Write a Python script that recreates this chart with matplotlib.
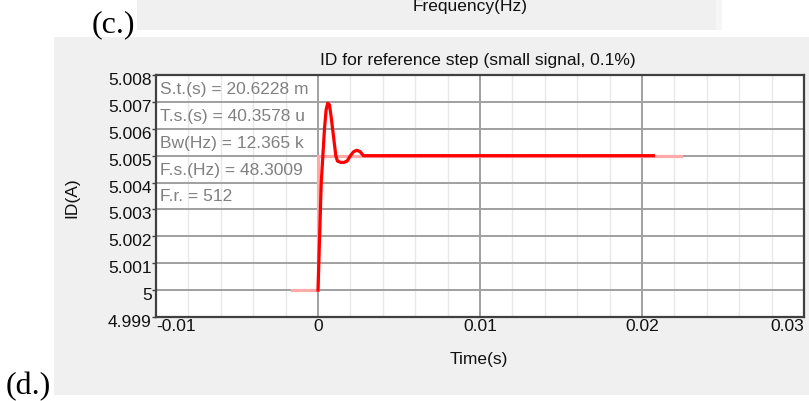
import matplotlib
matplotlib.use("Agg")
import matplotlib.pyplot as plt
import matplotlib.transforms as mtransforms
from matplotlib.patches import Rectangle

W, H = 809, 402
DPI = 100

# Measured drain current response (red) and the reference step (pink)
time_resp = [0.0, 0.0001, 0.0002, 0.0003, 0.0004, 0.0005, 0.0006, 0.0007,
             0.0008, 0.0009, 0.0010, 0.0011, 0.0012, 0.0014, 0.0016, 0.0018,
             0.0020, 0.0022, 0.0024, 0.0026, 0.0028, 0.0030, 0.0207]
id_resp = [5.0000, 5.0020, 5.0040, 5.0050, 5.0060, 5.0067, 5.00695, 5.0069,
           5.0065, 5.0060, 5.0055, 5.0050, 5.0048, 5.00475, 5.00475, 5.0048,
           5.0050, 5.00515, 5.0052, 5.00515, 5.0050, 5.0050, 5.0050]

time_ref = [-0.0016, 0.0, 0.0, 0.0224]
id_ref = [5.000, 5.000, 5.005, 5.005]

x_ticks = [-0.01, 0.0, 0.01, 0.02, 0.03]
x_labels = ["-0.01", "0", "0.01", "0.02", "0.03"]
y_ticks = [4.999, 5.000, 5.001, 5.002, 5.003, 5.004, 5.005, 5.006, 5.007, 5.008]
y_labels = ["4.999", "5", "5.001", "5.002", "5.003", "5.004", "5.005",
            "5.006", "5.007", "5.008"]

stats = ["S.t.(s) = 20.6228 m",
         "T.s.(s) = 40.3578 u",
         "Bw(Hz) = 12.365 k",
         "F.s.(Hz) = 48.3009",
         "F.r. = 512"]

SANS = ["Liberation Sans", "DejaVu Sans"]
SERIF = ["Liberation Serif", "DejaVu Serif"]
FS = 12.5
PANEL = "#f0f0f0"


def fx(px):
    return px / W


def fy(py):
    return 1 - py / H


fig = plt.figure(figsize=(W / DPI, H / DPI), dpi=DPI, facecolor="white")


def panel(x0, y0, x1, y1, color):
    fig.patches.append(Rectangle((fx(x0), fy(y1)), fx(x1) - fx(x0), fy(y0) - fy(y1),
                                 transform=fig.transFigure, facecolor=color,
                                 edgecolor="none", zorder=-10))


# Background panels
panel(137, 0, 716, 31, PANEL)
panel(716, 0, 722, 31, "#f6f6f6")
panel(54, 38, 809, 396, PANEL)

fig.text(fx(470), fy(6), "Frequency(Hz)", family=SANS, fontsize=FS,
         ha="center", va="center", color="#111111")
fig.text(fx(92), fy(32), "(c.)", family=SERIF, fontsize=23,
         ha="left", va="baseline", color="black")
fig.text(fx(6), fy(394), "(d.)", family=SERIF, fontsize=23,
         ha="left", va="baseline", color="black")

ax_l, ax_r, ax_t, ax_b = 156, 804, 76, 318
ax = fig.add_axes([fx(ax_l), fy(ax_b), fx(ax_r) - fx(ax_l), fy(ax_t) - fy(ax_b)])
ax.set_zorder(5)
ax.set_facecolor("white")
ax.set_xlim(-0.01, 0.03)
ax.set_ylim(4.999, 5.008)

# Grid: light minor verticals every 2 ms, darker major lines
for k in range(1, 20):
    if k % 5:
        ax.axvline(-0.01 + 0.002 * k, color="#e8e8e8", lw=1.0, zorder=1)
for xv in x_ticks[1:-1]:
    ax.axvline(xv, color="#a0a0a0", lw=1.4, zorder=1)
for yv in y_ticks[1:-1]:
    ax.axhline(yv, color="#a0a0a0", lw=1.4, zorder=1)

ax.plot(time_ref, id_ref, color="#ffaaaa", lw=2.3, zorder=3,
        solid_joinstyle="miter")
ax.plot(time_resp, id_resp, color="#ff0000", lw=2.3, zorder=4)

blend = mtransforms.blended_transform_factory(ax.transAxes, ax.transData)
for i, s in enumerate(stats):
    ax.text((160 - ax_l) / (ax_r - ax_l), 5.0075 - 0.001 * i, s,
            transform=blend, family=SANS, fontsize=FS, color="#808080",
            ha="left", va="center", zorder=5)

ax.set_xticks(x_ticks)
ax.set_xticklabels(x_labels, family=SANS, fontsize=FS, color="#111111")
ax.set_yticks(y_ticks)
ax.set_yticklabels(y_labels, family=SANS, fontsize=FS, color="#111111")
ax.tick_params(axis="x", length=0, pad=1)
ax.tick_params(axis="y", length=3, width=1, color="#404040", pad=0)

xl = ax.get_xticklabels()
xl[0].set_ha("left")
xl[-1].set_ha("right")
down = mtransforms.ScaledTranslation(0, -3 / DPI, fig.dpi_scale_trans)
for lab in ax.get_yticklabels():
    lab.set_transform(lab.get_transform() + down)

for sp in ax.spines.values():
    sp.set_color("#404040")
    sp.set_linewidth(1.6)

fig.text(fx(478), fy(60), "ID for reference step (small signal, 0.1%)",
         family=SANS, fontsize=FS, ha="center", va="center", color="#111111")
fig.text(fx(479), fy(360), "Time(s)", family=SANS, fontsize=FS,
         ha="center", va="center", color="#111111")
fig.text(fx(72), fy(198), "ID(A)", family=SANS, fontsize=FS, rotation=90,
         ha="center", va="center", color="#111111")

fig.savefig("out.png", dpi=DPI, facecolor="white")
